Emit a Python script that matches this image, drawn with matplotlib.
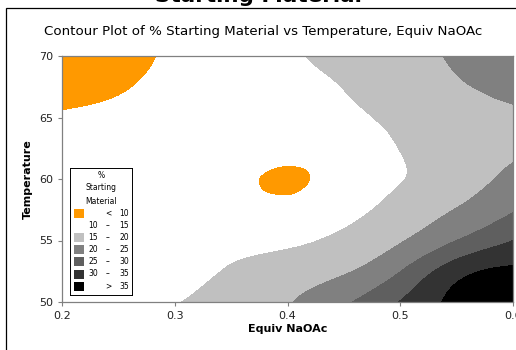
import numpy as np
import matplotlib
matplotlib.use("Agg")
import matplotlib.pyplot as plt
import matplotlib.tri as mtri
from matplotlib.patches import Rectangle

# Grid: % starting material vs Equiv NaOAc (x) and Temperature (y)
equiv_naoac = [0.2, 0.25, 0.3, 0.35, 0.4, 0.45, 0.5, 0.55, 0.6]
temperature = [50, 52.5, 55, 57.5, 60, 62.5, 65, 67.5, 70]
pct_sm = [
    [11.5, 12.8, 14.7, 17.0, 19.6, 24.2, 30.2, 36.5, 40.0],   # 50
    [12.0, 12.3, 13.0, 15.5, 17.5, 19.5, 24.9, 33.0, 36.0],   # 52.5
    [12.3, 12.3, 12.5, 13.3, 14.0, 16.2, 19.6, 25.0, 30.0],   # 55
    [12.5, 12.5, 12.3, 11.6, 11.1, 13.2, 16.8, 20.2, 24.6],   # 57.5
    [12.5, 12.5, 12.0, 11.0, 9.5, 11.8, 14.8, 17.5, 21.5],    # 60
    [12.5, 12.6, 12.3, 11.6, 11.3, 12.2, 15.1, 17.5, 19.0],   # 62.5
    [10.7, 11.2, 11.8, 12.3, 12.8, 14.0, 16.0, 17.8, 19.0],   # 65
    [7.8, 9.6, 11.0, 12.4, 13.6, 15.1, 17.2, 19.4, 21.6],     # 67.5
    [7.0, 8.8, 10.6, 12.5, 14.4, 16.4, 18.5, 20.5, 22.5],     # 70
]

levels = [0, 10, 15, 20, 25, 30, 35, 100]
level_colors = ["#ff9900", "#ffffff", "#c0c0c0", "#808080", "#5f5f5f", "#333333", "#000000"]
legend_rows = [("", "<", "10"), ("10", "–", "15"), ("15", "–", "20"), ("20", "–", "25"),
               ("25", "–", "30"), ("30", "–", "35"), ("", ">", "35")]

W, H = 516, 350
fig = plt.figure(figsize=(W / 100, H / 100), dpi=100)

# outer frame (runs off the right/bottom edges) and cut-off heading
fig.patches.append(Rectangle((6 / W, -0.5), 2, 1.5 - 8 / H, transform=fig.transFigure,
                             fill=False, edgecolor="black", lw=0.9))
fig.text(258 / W, 1 - 1.8 / H, "Starting Material", ha="center", va="baseline",
         fontsize=15.5, fontweight="bold")

ax = fig.add_axes([62 / W, 1 - 302 / H, 451 / W, 246 / H])

X, Y = np.meshgrid(equiv_naoac, temperature)
Z = np.array(pct_sm)
nx_, ny_ = len(equiv_naoac), len(temperature)
tris = []
for j in range(ny_ - 1):
    for i in range(nx_ - 1):
        a = j * nx_ + i
        tris.append([a, a + 1, a + nx_ + 1])
        tris.append([a, a + nx_ + 1, a + nx_])
tri = mtri.Triangulation(X.ravel(), Y.ravel(), tris)
refiner = mtri.UniformTriRefiner(tri)
tri_fine, z_fine = refiner.refine_field(Z.ravel(), subdiv=4)
ax.tricontourf(tri_fine, z_fine, levels=levels, colors=level_colors)

ax.set_xlim(0.2, 0.6)
ax.set_ylim(50, 70)
ax.set_xticks([0.2, 0.3, 0.4, 0.5, 0.6])
ax.set_xticklabels(["0.2", "0.3", "0.4", "0.5", "0.6"])
ax.set_yticks([50, 55, 60, 65, 70])
ax.tick_params(labelsize=8, colors="#808080", labelcolor="#222222", length=3, width=0.8)
for s in ax.spines.values():
    s.set_color("#808080")
    s.set_linewidth(0.9)
ax.set_xlabel("Equiv NaOAc", fontsize=8, fontweight="bold", labelpad=2)
ax.set_ylabel("Temperature", fontsize=8, fontweight="bold", labelpad=4)

fig.text(263 / W, 1 - 31 / H, "Contour Plot of % Starting Material vs Temperature, Equiv NaOAc",
         ha="center", va="center", fontsize=9.6)

# legend box
lx, ly, lw_, lh = 70, 168, 62, 127
lax = fig.add_axes([lx / W, 1 - (ly + lh) / H, lw_ / W, lh / H])
lax.set_xlim(0, lw_)
lax.set_ylim(lh, 0)
lax.set_xticks([])
lax.set_yticks([])
for s in lax.spines.values():
    s.set_color("black")
    s.set_linewidth(0.7)
for t, yy in zip(["%", "Starting", "Material"], [7, 20, 33]):
    lax.text(31, yy, t, ha="center", va="center", fontsize=5.5)
for k, (lo, sym, hi) in enumerate(legend_rows):
    yy = 45 + k * 12.2
    lax.add_patch(Rectangle((4, yy - 4.5), 10, 9, facecolor=level_colors[k], edgecolor="none"))
    lax.text(28, yy, lo, ha="right", va="center", fontsize=5.5)
    lax.text(38, yy, sym, ha="center", va="center", fontsize=5.5)
    lax.text(59, yy, hi, ha="right", va="center", fontsize=5.5)

fig.savefig("out.png", dpi=100)
